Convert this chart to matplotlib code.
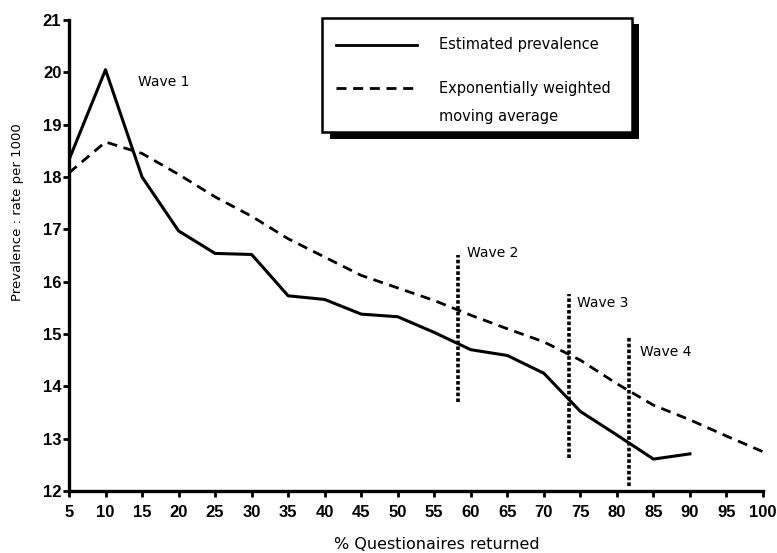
import numpy as np
import matplotlib.pyplot as plt
from matplotlib.patches import Rectangle

plt.rcParams['font.family'] = ['DejaVu Sans']

# data
pct = [5, 10, 15, 20, 25, 30, 35, 40, 45, 50, 55, 60, 65, 70, 75, 80, 85, 90]
prevalence = [18.33, 20.05, 18.0, 16.97, 16.54, 16.52, 15.73, 15.66, 15.38, 15.33,
              15.03, 14.70, 14.59, 14.25, 13.52, 13.07, 12.61, 12.71]

ewma_pct = [5, 10, 15, 20, 25, 30, 35, 40, 45, 50, 55, 60, 65, 70, 75, 80, 85, 90, 95, 100]
ewma = [18.08, 18.67, 18.45, 18.05, 17.62, 17.25, 16.82, 16.47, 16.12, 15.88,
        15.64, 15.36, 15.1, 14.85, 14.5, 14.05, 13.64, 13.36, 13.05, 12.75]

wave_x = [58.2, 73.4, 81.6]
wave_top = [16.51, 15.76, 14.95]
wave_bottom = [13.71, 12.63, 12.1]
wave_labels = ['Wave 2', 'Wave 3', 'Wave 4']
wave_label_x = [59.45, 74.6, 83.1]
wave_label_y = [16.55, 15.6, 14.66]

fig = plt.figure(figsize=(7.77, 5.53), dpi=100)
ax = fig.add_axes([0.0888, 0.1121, 0.8932, 0.8517])

ax.plot(pct, prevalence, color='black', lw=2.2)
ax.plot(ewma_pct, ewma, color='black', lw=2.0, dashes=(3.6, 2.4))

for xw, yt, yb in zip(wave_x, wave_top, wave_bottom):
    ax.plot([xw, xw], [yb, yt], color='black', lw=2.6, dashes=(1.0, 0.6))
for lx, ly, lab in zip(wave_label_x, wave_label_y, wave_labels):
    ax.text(lx, ly, lab, fontsize=10, va='center', ha='left')

ax.text(14.4, 19.82, 'Wave 1', fontsize=10, va='center', ha='left')

ax.set_xlim(5, 100)
ax.set_ylim(12, 21)
ax.set_xticks(range(5, 101, 5))
ax.set_yticks(range(12, 22))
for lab in ax.get_xticklabels() + ax.get_yticklabels():
    lab.set_fontweight('bold')
    lab.set_fontsize(12)
    lab.set_family(['Liberation Sans', 'DejaVu Sans'])
ax.tick_params(axis='x', direction='out', length=4, width=2, pad=6)
ax.tick_params(axis='y', direction='out', length=4, width=2, pad=1.5)

for side in ['top', 'right']:
    ax.spines[side].set_visible(False)
for side in ['left', 'bottom']:
    ax.spines[side].set_linewidth(2.4)

ax.set_xlabel('% Questionaires returned', fontsize=11.5)
ax.xaxis.set_label_coords(0.53, -0.097)
ax.set_ylabel('Prevalence : rate per 1000', fontsize=9.5)
ax.yaxis.set_label_coords(-0.065, 0.592)

# legend box with drop shadow, drawn in figure pixel coords
W, H = 777, 553
def fx(px):
    return px / W
def fy(py):
    return 1 - py / H

fig.patches.append(Rectangle((fx(330), fy(139)), fx(639) - fx(330), fy(24) - fy(139),
                             transform=fig.transFigure, facecolor='black',
                             edgecolor='none', zorder=5))
fig.patches.append(Rectangle((fx(322), fy(132)), fx(632) - fx(322), fy(18) - fy(132),
                             transform=fig.transFigure, facecolor='white',
                             edgecolor='black', lw=1.8, zorder=6))
fig.add_artist(plt.Line2D([fx(336), fx(417)], [fy(45), fy(45)], color='black',
                          lw=2.0, transform=fig.transFigure, zorder=7))
fig.add_artist(plt.Line2D([fx(336), fx(417)], [fy(88), fy(88)], color='black',
                          lw=2.0, dashes=(3.6, 2.4), transform=fig.transFigure, zorder=7))
fig.text(fx(439), fy(45), 'Estimated prevalence', fontsize=10.5, va='center', zorder=8)
fig.text(fx(439), fy(88), 'Exponentially weighted', fontsize=10.5, va='center', zorder=8)
fig.text(fx(439), fy(116), 'moving average', fontsize=10.5, va='center', zorder=8)

fig.savefig('out.png', dpi=100)
